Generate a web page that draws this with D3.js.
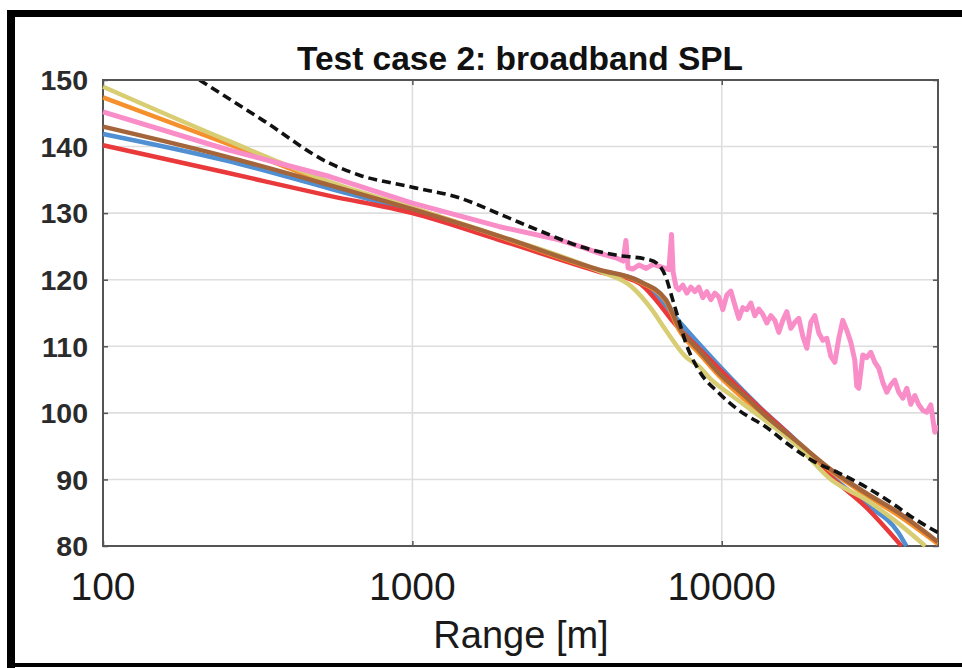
<!DOCTYPE html>
<html>
<head>
<meta charset="utf-8">
<script src="https://cdn.jsdelivr.net/npm/d3@7/dist/d3.min.js"></script>
<style>
  html, body { margin: 0; padding: 0; background: #fff; }
  svg { display: block; font-family: "Liberation Sans", Arial, Helvetica, sans-serif; }
</style>
</head>
<body>
<svg id="chart" width="962" height="668"></svg>
<script>
// Broadband SPL versus range, one curve per model.
const chartTitle = "Test case 2: broadband SPL";
const xLabel = "Range [m]";
const xTicks = [100, 1000, 10000];
const yTicks = [80, 90, 100, 110, 120, 130, 140, 150];

// [range in m, SPL in dB]
const blueSeries = [[100,141.9],[250,137.9],[540,133.7],[1000,130.3],[1900,126.4],[4010,121.4],[5400,119.8],[6120,117.9],[6900,115.0],[8430,110.4],[13160,101.0],[17700,95.5],[22650,90.5],[29150,86.3],[37250,82.0],[39500,80.0]];
const redSeries = [[100,140.2],[250,136.1],[540,132.6],[1000,130.0],[1900,126.0],[4010,121.2],[5400,119.5],[6120,117.0],[6900,113.9],[8430,109.7],[13160,100.9],[17700,95.4],[22650,90.3],[29150,85.9],[38100,80.0]];
const orangeSeries = [[100,147.4],[250,140.5],[540,134.5],[1000,130.8],[1900,126.5],[4010,121.4],[5400,119.7],[6595,116.8],[7266,112.5],[8430,109.0],[9780,105.6],[13160,100.2],[17700,95.3],[22650,91.2],[29150,87.7],[37250,84.6],[50000,80.3]];
const yellowSeries = [[100,149.0],[250,141.0],[540,134.7],[1000,130.8],[1900,126.6],[4010,121.3],[5125,118.9],[5945,115.5],[6595,112.4],[7652,108.4],[8430,107.0],[9290,104.9],[10770,102.6],[13160,99.6],[17700,94.9],[22650,89.9],[29150,87.0],[37250,83.4],[45500,80.0]];
const brownSeries = [[100,143.0],[250,138.5],[540,134.2],[1000,130.6],[1900,126.6],[4010,121.5],[5400,119.8],[6595,117.0],[7266,112.9],[8430,109.4],[9780,106.0],[11950,102.4],[13160,100.5],[17700,95.5],[22650,91.4],[29150,88.0],[37250,85.0],[50000,80.6]];
const pinkSeries = [[100,145.2],[250,139.6],[540,135.5],[1000,131.5],[1900,128.0],[2980,126.0],[3535,124.9],[4010,124.0],[4545,123.3],[4800,122.8],[4900,125.9],[4980,121.8],[5150,121.6],[5400,122.2],[5700,121.7],[6000,122.3],[6400,121.9],[6750,121.5],[6880,126.8],[6960,121.2],[7120,118.9],
  [7266,118.5],[7486,119.2],[7712,118.0],[7945,118.9],[8185,118.2],[8432,118.9],[8687,117.3],[8949,118.2],[9220,117.0],[9498,118.0],[9785,117.4],[10081,115.5],[10385,117.7],[10699,118.3],[11022,116.2],[11355,114.2],[11698,115.8],[12052,115.5],[12416,116.5],[12791,114.6],[13177,115.6],[13575,114.8],[13985,113.5],[14408,114.6],[14843,113.9],[15292,112.1],[15754,113.9],[16230,115.2],[16720,112.7],[17225,113.6],[17746,114.2],[18282,111.5],[18834,109.7],[19403,113.6],[19989,114.6],[20593,112.0],[21215,110.9],[21856,111.2],[22517,108.5],[23197,107.6],[23898,111.2],[24620,113.9],[25364,112.4],[26130,110.6],[26919,107.9],[27320,104.0],[27733,103.7],[28571,108.7],[29434,108.3],[30323,109.1],[31239,107.6],[32183,106.7],[33155,104.6],[34157,103.1],[35189,104.2],[36252,104.9],[37347,103.1],[38476,102.2],[39638,103.7],[40836,101.3],[42070,102.6],[43341,101.2],[44650,100.4],[45999,100.1],[47389,101.2],[48821,97.1],[49400,98.2]];
const dashedSeries = [[205,150.0],[330,143.9],[540,137.5],[675,135.7],[1000,133.9],[1418,132.3],[1950,129.7],[2626,127.2],[3535,124.9],[4545,123.7],[5814,123.0],[6264,122.2],[6595,120.4],[6900,117.4],[7266,113.9],[7652,110.5],[8430,106.4],[9780,103.0],[11350,100.4],[13870,97.9],[16820,94.9],[19500,92.9],[23830,91.0],[29150,88.9],[35330,86.5],[41000,84.4],[50000,82.0]];

const curves = [
  { data: blueSeries,   color: "#4f8fd2", smooth: true },
  { data: redSeries,    color: "#e9393b", smooth: true },
  { data: orangeSeries, color: "#f5902d", smooth: true },
  { data: yellowSeries, color: "#d8cd72", smooth: true },
  { data: brownSeries,  color: "#a5653b", smooth: true },
  { data: pinkSeries,   color: "#f98dc8", smooth: false }
];

const svg = d3.select("#chart");
const W = 962, H = 668;
const plot = { left: 103, right: 938, top: 80, bottom: 546 };

svg.append("rect").attr("width", W).attr("height", H).attr("fill", "#fff");

const x = d3.scaleLog().domain([100, 50000]).range([plot.left, plot.right]);
const y = d3.scaleLinear().domain([80, 150]).range([plot.bottom, plot.top]);

// grid
const grid = svg.append("g");
grid.selectAll("line.gy").data(yTicks.slice(1, -1)).join("line")
  .attr("x1", plot.left).attr("x2", plot.right)
  .attr("y1", d => y(d)).attr("y2", d => y(d))
  .attr("stroke", "#dedede").attr("stroke-width", 1.6);
grid.selectAll("line.gx").data(xTicks.slice(1)).join("line")
  .attr("y1", plot.top).attr("y2", plot.bottom)
  .attr("x1", d => x(d)).attr("x2", d => x(d))
  .attr("stroke", "#dedede").attr("stroke-width", 1.6);

// axes with inward ticks on all four sides
const tickLen = 5;
const axisColor = "#555";
const axL = svg.append("g").attr("transform", `translate(${plot.left},0)`)
  .call(d3.axisLeft(y).tickValues(yTicks).tickSize(-tickLen).tickFormat(""));
const axR = svg.append("g").attr("transform", `translate(${plot.right},0)`)
  .call(d3.axisRight(y).tickValues(yTicks).tickSize(-tickLen).tickFormat(""));
const axB = svg.append("g").attr("transform", `translate(0,${plot.bottom})`)
  .call(d3.axisBottom(x).tickValues(xTicks).tickSize(-tickLen).tickFormat(""));
const axT = svg.append("g").attr("transform", `translate(0,${plot.top})`)
  .call(d3.axisTop(x).tickValues(xTicks).tickSize(-tickLen).tickFormat(""));
[axL, axR, axB, axT].forEach(a => {
  a.select(".domain").remove();
  a.selectAll(".tick line").attr("stroke", axisColor).attr("stroke-width", 1.5);
});
svg.append("rect")
  .attr("x", plot.left).attr("y", plot.top)
  .attr("width", plot.right - plot.left).attr("height", plot.bottom - plot.top)
  .attr("fill", "none").attr("stroke", axisColor).attr("stroke-width", 2);

// tick labels
svg.append("g").selectAll("text").data(yTicks).join("text")
  .attr("x", 88).attr("y", d => y(d)).attr("dy", "0.36em")
  .attr("text-anchor", "end").attr("font-size", 28.5).attr("font-weight", "bold")
  .attr("fill", "#2b2b2b").text(d => d);
svg.append("g").selectAll("text").data(xTicks).join("text")
  .attr("x", d => x(d)).attr("y", 600)
  .attr("text-anchor", "middle").attr("font-size", 39)
  .attr("fill", "#1a1a1a").text(d => d);

svg.append("text").attr("x", 521).attr("y", 648).attr("text-anchor", "middle")
  .attr("font-size", 38).attr("fill", "#1a1a1a").text(xLabel);
svg.append("text").attr("x", 520).attr("y", 70).attr("text-anchor", "middle")
  .attr("font-size", 33.5).attr("font-weight", "bold").attr("fill", "#111").text(chartTitle);

// curves
svg.append("defs").append("clipPath").attr("id", "plotClip").append("rect")
  .attr("x", plot.left - 3).attr("y", plot.top + 1)
  .attr("width", plot.right - plot.left + 3).attr("height", plot.bottom - plot.top + 2);
const lines = svg.append("g").attr("clip-path", "url(#plotClip)");
const smoothLine = d3.line().x(d => x(d[0])).y(d => y(d[1])).curve(d3.curveMonotoneX);
const rawLine = d3.line().x(d => x(d[0])).y(d => y(d[1]));
curves.forEach(c => {
  lines.append("path").attr("d", (c.smooth ? smoothLine : rawLine)(c.data))
    .attr("fill", "none").attr("stroke", c.color).attr("stroke-width", c.smooth ? 4.5 : 5)
    .attr("stroke-linejoin", "round").attr("stroke-linecap", "butt");
});
lines.append("path").attr("d", smoothLine(dashedSeries))
  .attr("fill", "none").attr("stroke", "#111").attr("stroke-width", 3.6)
  .attr("stroke-dasharray", "9,5");

// outer frame
svg.append("rect").attr("x", 7).attr("y", 10).attr("width", 8).attr("height", H - 10).attr("fill", "#000");
svg.append("rect").attr("x", 7).attr("y", 10).attr("width", W - 7).attr("height", 7).attr("fill", "#000");
svg.append("rect").attr("x", 7).attr("y", 663).attr("width", W - 7).attr("height", 4).attr("fill", "#000");
</script>
</body>
</html>
